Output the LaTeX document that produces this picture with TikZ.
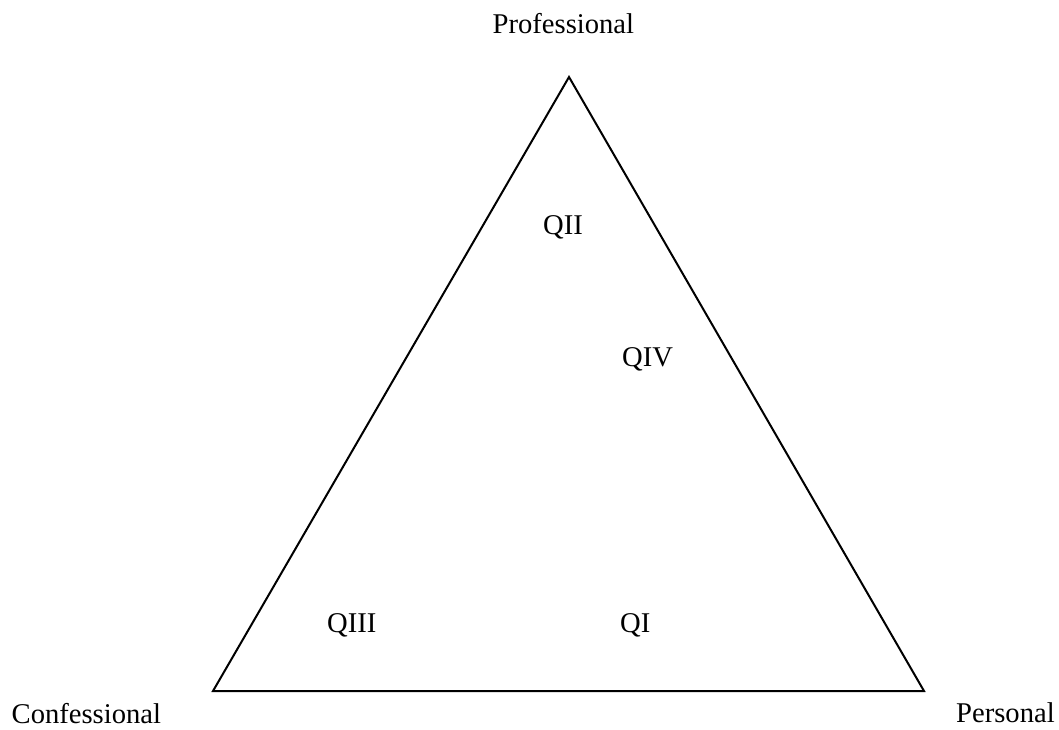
\documentclass[tikz,border=0pt]{standalone}
\usepackage{fontspec}
\setmainfont{Liberation Serif}
\begin{document}
\begin{tikzpicture}[x=1pt,y=-1pt,
  lbl/.style={inner sep=0pt,anchor=base west,font=\fontsize{28.6}{34}\selectfont},
  edge/.style={line width=2pt,line join=miter}]
\useasboundingbox[fill=white] (0,0) rectangle (1059,729);
\coordinate (top) at (569,77);
\coordinate (bl) at (213,691);
\coordinate (br) at (924,691);
\draw[edge] (top) -- (bl) -- (br) -- cycle;
\node[lbl] (prof) at (492.5,33) {Professional};
\node[lbl] (conf) at (11.5,723) {Confessional};
\node[lbl] (pers) at (956,722) {Personal};
\node[lbl] (q2) at (543,234) {QII};
\node[lbl] (q4) at (622,366) {QIV};
\node[lbl] (q3) at (327,632) {QIII};
\node[lbl] (q1) at (620,632) {QI};
\end{tikzpicture}
\end{document}
